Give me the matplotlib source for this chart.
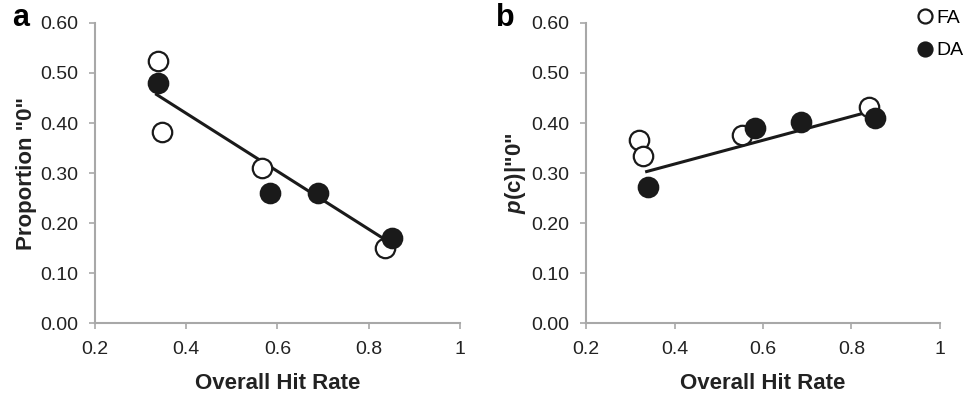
import matplotlib
matplotlib.use("Agg")
import matplotlib.pyplot as plt
import numpy as np

# panel a: proportion "0" vs overall hit rate
a_fa_x = [0.338, 0.347, 0.567, 0.837]
a_fa_y = [0.523, 0.382, 0.310, 0.150]
a_da_x = [0.338, 0.584, 0.689, 0.852]
a_da_y = [0.480, 0.261, 0.260, 0.170]
a_fit_x = [0.335, 0.843]
a_fit_y = [0.457, 0.163]

# panel b: p(c)|"0" vs overall hit rate
b_fa_x = [0.320, 0.328, 0.552, 0.840]
b_fa_y = [0.366, 0.335, 0.376, 0.432]
b_da_x = [0.341, 0.582, 0.687, 0.853]
b_da_y = [0.272, 0.390, 0.402, 0.410]
b_fit_x = [0.337, 0.850]
b_fit_y = [0.303, 0.425]

x_ticks = [0.2, 0.4, 0.6, 0.8, 1.0]
x_ticklabels = ["0.2", "0.4", "0.6", "0.8", "1"]
y_ticks = [0.0, 0.1, 0.2, 0.3, 0.4, 0.5, 0.6]

plt.rcParams["font.family"] = ["Liberation Sans", "DejaVu Sans"]
plt.rcParams["mathtext.fontset"] = "custom"
plt.rcParams["mathtext.it"] = "Liberation Sans:italic"
plt.rcParams["mathtext.bf"] = "Liberation Sans:bold"
plt.rcParams["mathtext.bfit"] = "Liberation Sans:italic:bold"

fig = plt.figure(figsize=(9.73, 3.96), dpi=100)
ax_a = fig.add_axes([0.0976, 0.184, 0.375, 0.758])
ax_b = fig.add_axes([0.6023, 0.184, 0.3637, 0.758])

AXCOL = "#a8a8a8"
TXT = "#222222"


def _style(ax, ylabel):
    ax.set_xlim(0.2, 1.0)
    ax.set_ylim(0.0, 0.6)
    ax.set_xticks(x_ticks)
    ax.set_xticklabels(x_ticklabels)
    ax.set_yticks(y_ticks)
    ax.set_yticklabels([f"{v:.2f}" for v in y_ticks])
    for s in ("top", "right"):
        ax.spines[s].set_visible(False)
    for s in ("left", "bottom"):
        ax.spines[s].set_color(AXCOL)
        ax.spines[s].set_linewidth(1.5)
    ax.tick_params(axis="both", colors=AXCOL, labelcolor=TXT,
                   labelsize=14, length=4, width=1.2, direction="out")
    ax.tick_params(axis="x", pad=9)
    ax.tick_params(axis="y", pad=8)
    ax.set_xlabel("Overall Hit Rate", fontsize=16, fontweight="bold",
                  labelpad=11, color=TXT)
    ax.set_ylabel(ylabel, fontsize=16, fontweight="bold", color=TXT,
                  labelpad=2)


def _panel(ax, fa_x, fa_y, da_x, da_y, fit_x, fit_y):
    ax.plot(fit_x, fit_y, color="#1a1a1a", lw=2.2, zorder=2)
    ax.plot(fa_x, fa_y, "o", ms=14, mfc="white", mec="#1a1a1a", mew=1.6,
            ls="none", zorder=3, label="FA")
    ax.plot(da_x, da_y, "o", ms=14, mfc="#1a1a1a", mec="#1a1a1a", mew=1.6,
            ls="none", zorder=4, label="DA")


_panel(ax_a, a_fa_x, a_fa_y, a_da_x, a_da_y, a_fit_x, a_fit_y)
_style(ax_a, 'Proportion "0"')
_panel(ax_b, b_fa_x, b_fa_y, b_da_x, b_da_y, b_fit_x, b_fit_y)
_style(ax_b, r'$\mathbfit{p}$(c)|"0"')

h, l = ax_b.get_legend_handles_labels()
leg = fig.legend(h, l, loc="upper right", bbox_to_anchor=(1.008, 1.02),
                 frameon=False, fontsize=14, handletextpad=0.1,
                 handlelength=0.9, markerscale=0.72, labelspacing=0.75)

fig.text(0.012, 0.955, "a", fontsize=22, fontweight="bold", va="center")
fig.text(0.510, 0.955, "b", fontsize=22, fontweight="bold", va="center")

fig.savefig("out.png", dpi=100)
